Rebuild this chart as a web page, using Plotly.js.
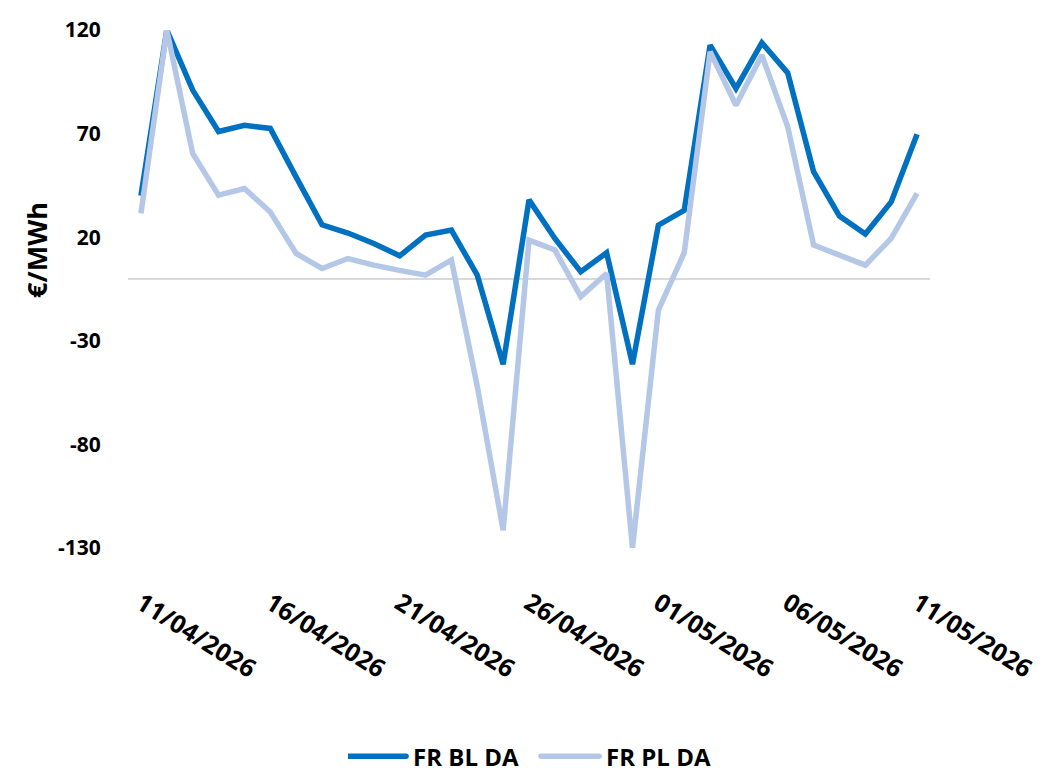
<!DOCTYPE html>
<html>
<head>
<meta charset="utf-8">
<script src="https://cdn.plot.ly/plotly-3.0.1.min.js"></script>
<style>html,body{margin:0;padding:0;background:#fff;}#chart{width:1058px;height:772px;}</style>
</head>
<body>
<div id="chart"></div>
<script>
// Dates (daily, 11/04/2026 - 11/05/2026)
const dates = [
  '2026-04-11','2026-04-12','2026-04-13','2026-04-14','2026-04-15','2026-04-16','2026-04-17',
  '2026-04-18','2026-04-19','2026-04-20','2026-04-21','2026-04-22','2026-04-23','2026-04-24',
  '2026-04-25','2026-04-26','2026-04-27','2026-04-28','2026-04-29','2026-04-30','2026-05-01',
  '2026-05-02','2026-05-03','2026-05-04','2026-05-05','2026-05-06','2026-05-07','2026-05-08',
  '2026-05-09','2026-05-10','2026-05-11'
];
const frBlDa = [40, 120, 91, 71, 74, 72.5, 49, 26, 22, 17, 11, 21, 23.4, 1.7, -41.3, 38, 19.4, 3.3, 12.5, -41.3, 25.8, 33, 112.7, 91.8, 113.8, 99.3, 51.6, 30.2, 21.5, 37, 69.7];
const frPlDa = [31.5, 120, 60.4, 40.3, 43.5, 32.2, 12.2, 4.9, 9.7, 6.5, 4, 1.7, 9, -52, -121.4, 18.6, 13.8, -8.7, 2.5, -130, -15.2, 12.5, 109.5, 83.7, 107.9, 73.3, 16.2, 11.3, 6.5, 19.4, 41.1];
const xTickVals = ['2026-04-11','2026-04-16','2026-04-21','2026-04-26','2026-05-01','2026-05-06','2026-05-11'];
const xTickText = ['11/04/2026','16/04/2026','21/04/2026','26/04/2026','01/05/2026','06/05/2026','11/05/2026'];
const yTickVals = [120, 70, 20, -30, -80, -130];
const yTickText = ['120', '70', '20', '-30', '-80', '-130'];
const seriesNames = ['FR BL DA', 'FR PL DA'];

const FONT = "'Open Sans', 'Liberation Sans', sans-serif";

const traces = [
  {x: dates, y: frBlDa, name: seriesNames[0], type: 'scatter', mode: 'lines',
   line: {color: '#0070C0', width: 5.5}},
  {x: dates, y: frPlDa, name: seriesNames[1], type: 'scatter', mode: 'lines',
   line: {color: '#B4C7E7', width: 5.5}}
];

const layout = {
  width: 1058, height: 772,
  margin: {l: 128, r: 128, t: 30, b: 224},
  paper_bgcolor: '#fff', plot_bgcolor: '#fff',
  showlegend: true,
  font: {family: FONT, color: '#000'},
  xaxis: {
    type: 'date',
    range: ['2026-04-10 12:00', '2026-05-11 12:00'],
    tickvals: xTickVals, ticktext: xTickText,
    tickangle: 32,
    tickfont: {family: FONT, size: 25, color: '#000', weight: 'bold'},
    showgrid: false, zeroline: false, showline: false,
    ticks: 'outside', ticklen: 30, tickcolor: 'rgba(0,0,0,0)'
  },
  yaxis: {
    range: [-130, 120],
    tickvals: yTickVals, ticktext: yTickText,
    tickfont: {family: FONT, size: 21, color: '#000', weight: 'bold'},
    showgrid: false, showline: false,
    zeroline: true, zerolinecolor: '#D9D9D9', zerolinewidth: 2,
    ticks: 'outside', ticklen: 22, tickcolor: 'rgba(0,0,0,0)'
  },
  legend: {
    orientation: 'h', x: 0.515, xanchor: 'center',
    yref: 'container', y: 0.02, yanchor: 'middle',
    font: {family: FONT, size: 24, color: '#000', weight: 'bold'},
    itemwidth: 55, entrywidth: 123, entrywidthmode: 'pixels', traceorder: 'normal'
  },
  annotations: [{
    text: '€/MWh', textangle: -90, showarrow: false,
    xref: 'paper', yref: 'paper', x: -0.115, y: 0.575, xanchor: 'center', yanchor: 'middle',
    font: {family: FONT, size: 27, color: '#000', weight: 'bold'}
  }]
};

Plotly.newPlot('chart', traces, layout, {displayModeBar: false, staticPlot: true}).then(function(gd){
  document.querySelectorAll('.legend .legendlines path').forEach(function(p){
    p.setAttribute('d', 'M0,0h58');
    p.style.strokeLinecap = 'round';
  });
});
</script>
</body>
</html>
